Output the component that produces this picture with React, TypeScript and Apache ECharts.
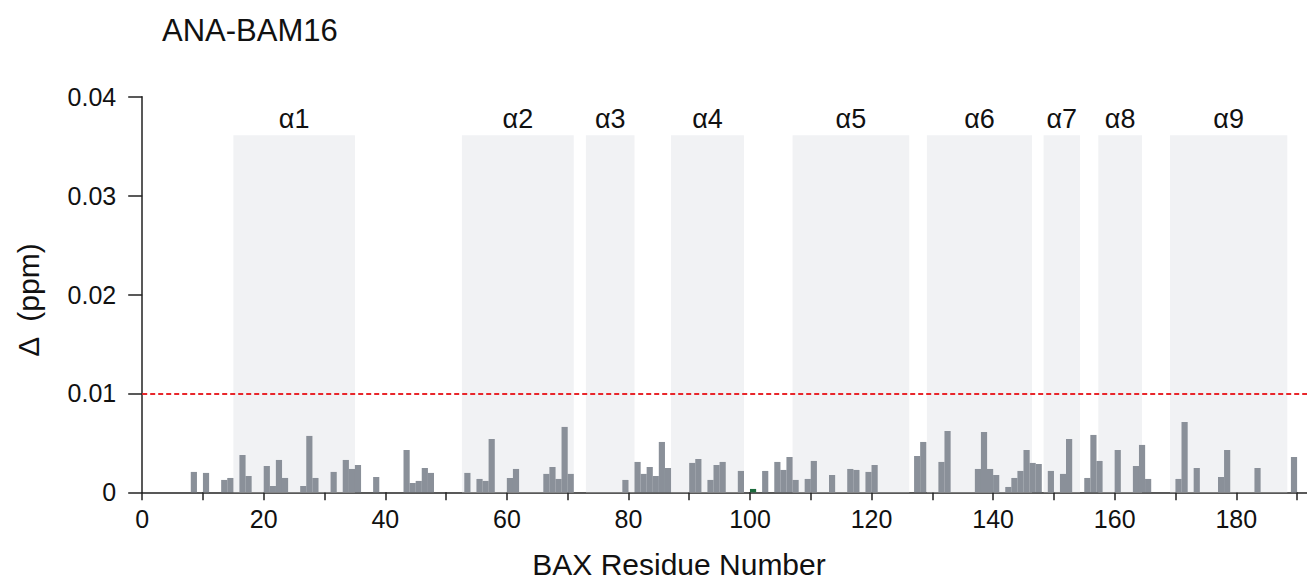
import { useEffect, useRef } from "react";
import * as echarts from "echarts";

// BAX residue numbers (bar for residue r spans [r-1, r]) and chemical shift perturbations (ppm)
const residues = [
  9, 11, 14, 15, 17, 18, 21, 22, 23, 24, 27, 28, 29, 32, 34, 35, 36, 39, 44, 45, 46, 47, 48,
  54, 56, 57, 58, 61, 62, 67, 68, 69, 70, 71, 80, 82, 83, 84, 85, 86, 87, 91, 92, 94, 95, 96,
  99, 101, 103, 105, 106, 107, 108, 110, 111, 114, 117, 118, 120, 121, 128, 129, 132, 133,
  138, 139, 140, 141, 143, 144, 145, 146, 147, 148, 150, 152, 153, 156, 157, 158, 161, 164,
  165, 166, 171, 172, 174, 178, 179, 184, 190,
];
const shifts = [
  0.00206, 0.00196, 0.00125, 0.00145, 0.00377, 0.00165, 0.00266, 0.00064, 0.00327, 0.00145,
  0.00064, 0.0057, 0.00145, 0.00206, 0.00327, 0.00236, 0.00276, 0.00155, 0.00428, 0.00094,
  0.00115, 0.00246, 0.00196, 0.00196, 0.00135, 0.00115, 0.00539, 0.00145, 0.00236, 0.00186,
  0.00256, 0.00135, 0.00661, 0.00186, 0.00125, 0.00307, 0.00186, 0.00256, 0.00165, 0.00509,
  0.00246, 0.00297, 0.00337, 0.00125, 0.00276, 0.00307, 0.00216, 0.00034, 0.00216, 0.00307,
  0.00226, 0.00357, 0.00125, 0.00135, 0.00317, 0.00175, 0.00236, 0.00226, 0.00206, 0.00276,
  0.00367, 0.00509, 0.00307, 0.0062, 0.00236, 0.0061, 0.00236, 0.00175, 0.00054, 0.00145,
  0.00216, 0.00428, 0.00297, 0.00286, 0.00216, 0.00186, 0.00539, 0.00145, 0.0058, 0.00317,
  0.00428, 0.00266, 0.00479, 0.00135, 0.00135, 0.00711, 0.00246, 0.00155, 0.00428, 0.00246,
  0.00357,
];
const highlightedResidues = [101];

// Helices (shaded regions)
const helixNames = ["α1", "α2", "α3", "α4", "α5", "α6", "α7", "α8", "α9"];
const helixStart = [15, 52.6, 73, 87, 107, 129.1, 148.3, 157.3, 169.1];
const helixEnd = [35, 71, 81, 99, 126.2, 146.4, 154.3, 164.5, 188.4];
const helixTop = 0.0361;

const threshold = 0.01;
const xTickLabels = [0, 20, 40, 60, 80, 100, 120, 140, 160, 180];

const X_MAX = 192;
const GRID_LEFT = 142.2;
const GRID_TOP = 96.7;
const GRID_W = 1167;
const GRID_H = 395.6;
const FONT = '"Liberation Sans", Arial, Helvetica, sans-serif';

export default function App() {
  const ref = useRef<HTMLDivElement>(null);
  useEffect(() => {
    document.body.style.margin = "0";
    const chart = echarts.init(ref.current!, null, { renderer: "svg" });
    const barData = residues.map((r, i) => ({
      value: [r - 0.5, shifts[i]],
      itemStyle: {
        color: highlightedResidues.includes(r) ? "#1d6b3d" : "#8a9099",
      },
    }));
    const axisColor = "#222";
    chart.setOption({
      animation: false,
      grid: {
        left: GRID_LEFT,
        top: GRID_TOP,
        width: GRID_W,
        height: GRID_H,
        containLabel: false,
        outerBoundsMode: "none",
      },
      xAxis: {
        type: "value",
        min: 0,
        max: X_MAX,
        interval: 10,
        splitLine: { show: false },
        axisLine: { lineStyle: { color: axisColor, width: 1.5 } },
        axisTick: { length: 8, lineStyle: { color: axisColor, width: 1.5 } },
        axisLabel: {
          margin: 14,
          fontSize: 25,
          fontFamily: FONT,
          color: "#111",
          formatter: (v: number) => (xTickLabels.includes(v) ? String(v) : ""),
        },
      },
      yAxis: {
        type: "value",
        min: 0,
        max: 0.04,
        interval: 0.01,
        splitLine: { show: false },
        axisLine: { show: true, lineStyle: { color: axisColor, width: 1.5 } },
        axisTick: { show: true, length: 14, lineStyle: { color: axisColor, width: 1.5 } },
        axisLabel: {
          margin: 26,
          fontSize: 25,
          fontFamily: FONT,
          color: "#111",
          formatter: (v: number) => (v === 0 ? "0" : v.toFixed(2)),
        },
      },
      series: [
        {
          type: "line",
          data: [],
          z: 0,
          silent: true,
          markArea: {
            silent: true,
            itemStyle: { color: "#f1f2f4" },
            label: {
              show: true,
              position: "top",
              distance: 3,
              fontSize: 27,
              fontFamily: FONT,
              color: "#111",
            },
            data: helixNames.map((n, i) => [
              { name: n, xAxis: helixStart[i], yAxis: 0 },
              { xAxis: helixEnd[i], yAxis: helixTop },
            ]),
          },
        },
        {
          type: "bar",
          z: 2,
          barWidth: GRID_W / X_MAX + 0.1,
          data: barData,
          markLine: {
            silent: true,
            symbol: "none",
            label: { show: false },
            lineStyle: { color: "#e8262b", type: [5, 3], width: 2 },
            data: [{ yAxis: threshold }],
          },
        },
      ],
      graphic: [
        {
          type: "text",
          x: 162,
          y: 30,
          style: {
            text: "ANA-BAM16",
            fontSize: 31,
            fontFamily: FONT,
            fill: "#111",
            align: "left",
            verticalAlign: "middle",
          },
        },
        {
          type: "text",
          x: 679,
          y: 564,
          style: {
            text: "BAX Residue Number",
            fontSize: 30,
            fontFamily: FONT,
            fill: "#111",
            align: "center",
            verticalAlign: "middle",
          },
        },
        {
          type: "text",
          x: 28,
          y: 300,
          rotation: Math.PI / 2,
          style: {
            text: "Δ  (ppm)",
            fontSize: 30,
            fontFamily: FONT,
            fill: "#111",
            align: "center",
            verticalAlign: "middle",
          },
        },
      ],
    });
    return () => chart.dispose();
  }, []);
  return <div ref={ref} style={{ width: 1307, height: 581 }} />;
}
